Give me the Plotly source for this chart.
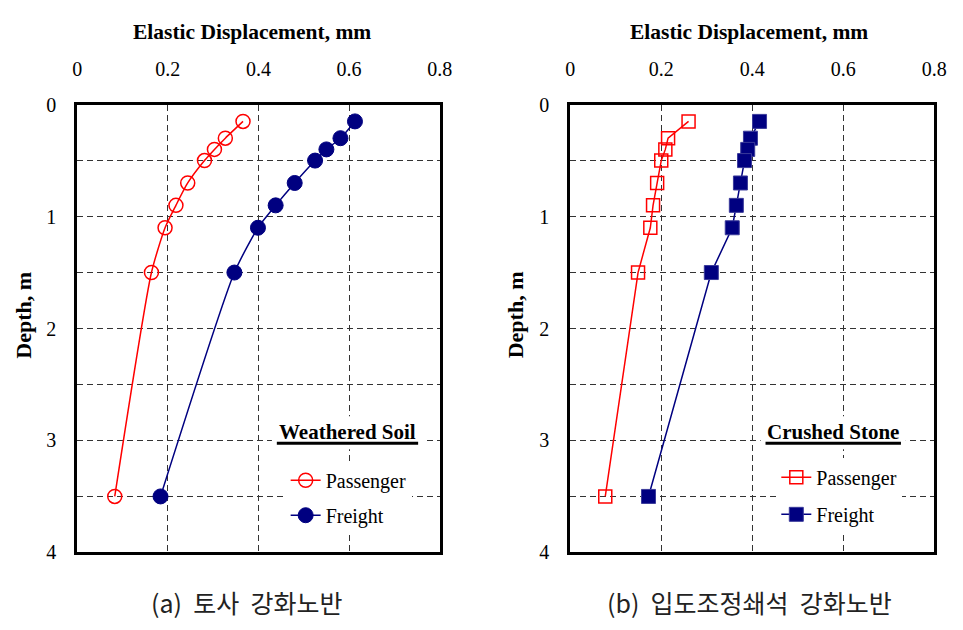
import plotly.graph_objects as go

# ---- data ----
depth = [0.15, 0.3, 0.4, 0.5, 0.7, 0.9, 1.1, 1.5, 3.5]
soil_passenger = [0.366, 0.327, 0.303, 0.281, 0.244, 0.218, 0.194, 0.164, 0.083]
soil_freight = [0.613, 0.581, 0.550, 0.525, 0.480, 0.438, 0.399, 0.347, 0.184]
stone_passenger = [0.260, 0.215, 0.209, 0.200, 0.191, 0.182, 0.176, 0.149, 0.077]
stone_freight = [0.416, 0.396, 0.390, 0.383, 0.374, 0.365, 0.356, 0.310, 0.172]
x_ticks = [0, 0.2, 0.4, 0.6, 0.8]
x_tick_text = ["0", "0.2", "0.4", "0.6", "0.8"]
y_ticks = [0, 1, 2, 3, 4]
x_title = "Elastic Displacement, mm"
y_title = "Depth, m"
captions = ["(a)\u00a0 토사\u00a0 강화노반", "(b)\u00a0 입도조정쇄석\u00a0 강화노반"]
legend_titles = ["Weathered Soil", "Crushed Stone"]

RED = "#FF0000"
NAVY = "#000080"
SERIF = "Liberation Serif"
W, H = 963, 630

def px(x):
    return x / W

def py(y):
    return 1 - y / H

fig = go.Figure()

# left panel
fig.add_trace(go.Scatter(x=soil_passenger, y=depth, name="Passenger", mode="lines+markers",
                         line=dict(color=RED, width=1.5, shape="spline", smoothing=0.6),
                         marker=dict(symbol="circle-open", size=14, color=RED, line=dict(width=1.5)),
                         xaxis="x", yaxis="y", legend="legend", legendgroup="a1"))
fig.add_trace(go.Scatter(x=soil_freight, y=depth, name="Freight", mode="lines+markers",
                         line=dict(color=NAVY, width=1.5, shape="spline", smoothing=0.6),
                         marker=dict(symbol="circle", size=15, color=NAVY, line=dict(width=1, color=NAVY)),
                         xaxis="x", yaxis="y", legend="legend", legendgroup="a2"))
# right panel
fig.add_trace(go.Scatter(x=stone_passenger, y=depth, name="Passenger", mode="lines+markers",
                         line=dict(color=RED, width=1.5),
                         marker=dict(symbol="square-open", size=13, color=RED, line=dict(width=1.5)),
                         xaxis="x2", yaxis="y2", legend="legend2", legendgroup="b1"))
fig.add_trace(go.Scatter(x=stone_freight, y=depth, name="Freight", mode="lines+markers",
                         line=dict(color=NAVY, width=1.5),
                         marker=dict(symbol="square", size=14, color=NAVY, line=dict(width=1, color="#3a3a9a")),
                         xaxis="x2", yaxis="y2", legend="legend2", legendgroup="b2"))

grid = dict(showgrid=True, gridcolor="#333333", gridwidth=1, griddash="6px,4px")
frame = dict(showline=True, linecolor="black", linewidth=3, mirror=True, zeroline=False,
             ticks="", tickfont=dict(family=SERIF, size=20, color="black"))

xcommon = dict(range=[0, 0.8], tickvals=x_ticks, ticktext=x_tick_text, side="top",
               ticklabelstandoff=18, **grid, **frame)
ycommon = dict(range=[4, 0], tickvals=y_ticks, ticklabelstandoff=14,
               minor=dict(dtick=0.5, tick0=0, showgrid=True, gridcolor="#333333", griddash="6px,4px", gridwidth=1),
               **grid, **frame)

legend_font = dict(family=SERIF, size=20, color="black")
fig.update_layout(
    width=W, height=H, margin=dict(l=0, r=0, t=0, b=0),
    paper_bgcolor="white", plot_bgcolor="white",
    xaxis=dict(domain=[px(73.5), px(443)], anchor="y", **xcommon),
    yaxis=dict(domain=[py(561), py(97)], anchor="x", **ycommon),
    xaxis2=dict(domain=[px(576), px(947)], anchor="y2", **xcommon),
    yaxis2=dict(domain=[py(561), py(97)], anchor="x2", **ycommon),
    showlegend=True,
    legend=dict(x=px(286), y=py(466), xanchor="left", yanchor="top", bgcolor="white",
                font=legend_font, tracegroupgap=6, itemwidth=30),
    legend2=dict(x=px(786), y=py(463), xanchor="left", yanchor="top", bgcolor="white",
                 font=legend_font, tracegroupgap=8, itemwidth=30),
)

annotations = []
for cx in [252, 758]:
    annotations.append(dict(x=px(cx), y=py(22), xref="paper", yref="paper", text="<b>" + x_title + "</b>",
                            xanchor="center", yanchor="middle",
                            showarrow=False, font=dict(family=SERIF, size=21.5, color="black")))
for cx in [18, 520]:
    annotations.append(dict(x=px(cx), y=py(315), xref="paper", yref="paper", text="<b>" + y_title + "</b>",
                            xanchor="center", yanchor="middle",
                            showarrow=False, textangle=-90, font=dict(family=SERIF, size=22, color="black")))
for cx, t in zip([246, 759], captions):
    annotations.append(dict(x=px(cx), y=py(612), xref="paper", yref="paper", text=t,
                            xanchor="center", yanchor="middle",
                            showarrow=False, font=dict(family="Noto Sans CJK KR", size=25, color="#222222")))
for (x0, x1), t in zip([(277, 421), (775, 913)], legend_titles):
    annotations.append(dict(x=px((x0 + x1) / 2), y=py(436), xref="paper", yref="paper", text="<b>" + t + "</b>",
                            xanchor="center", yanchor="middle",
                            showarrow=False, font=dict(family=SERIF, size=21, color="black")))
fig.update_layout(annotations=annotations)

shapes = []
for x0, x1 in [(277, 421), (775, 913)]:
    shapes.append(dict(type="rect", xref="paper", yref="paper", x0=px(x0 - 5), x1=px(x1 + 5),
                       y0=py(454), y1=py(420), fillcolor="white", line=dict(width=0), layer="above"))
    shapes.append(dict(type="line", xref="paper", yref="paper", x0=px(x0), x1=px(x1), y0=py(448), y1=py(448),
                       line=dict(color="black", width=3), layer="above"))
fig.update_layout(shapes=shapes)

fig.write_html("out.html")
